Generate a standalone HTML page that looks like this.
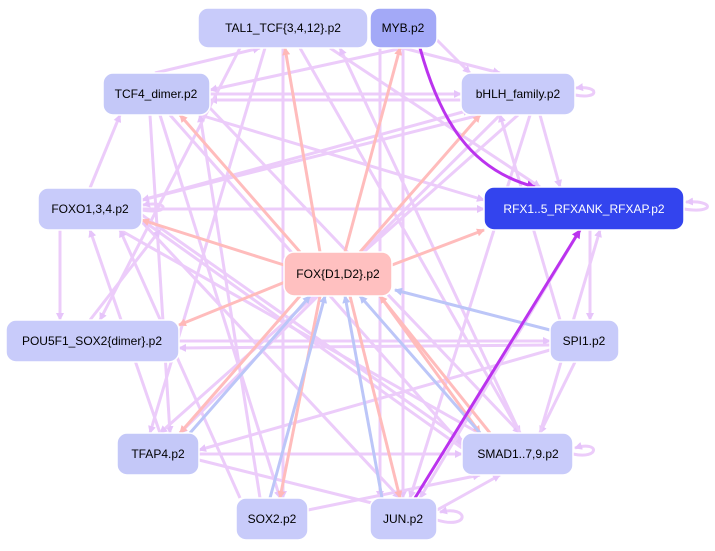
<!DOCTYPE html>
<html><head><meta charset="utf-8"><style>
html,body{margin:0;padding:0;background:#fff;}
svg{display:block;}
text{font-family:"Liberation Sans",sans-serif;font-size:12px;text-anchor:middle;dominant-baseline:central;fill:#000;}
</style></head><body>
<svg width="715" height="551" viewBox="0 0 715 551">
<defs>
<marker id="ap" markerWidth="8" markerHeight="8" refX="7" refY="4" orient="auto" markerUnits="userSpaceOnUse"><path d="M0,0 L8,4 L0,8z" fill="#e6c4fa"/></marker>
<marker id="ar" markerWidth="8" markerHeight="8" refX="7" refY="4" orient="auto" markerUnits="userSpaceOnUse"><path d="M0,0 L8,4 L0,8z" fill="#ffb8b8"/></marker>
<marker id="ad" markerWidth="9" markerHeight="9" refX="8" refY="4.5" orient="auto" markerUnits="userSpaceOnUse"><path d="M0,0 L9,4.5 L0,9z" fill="#bb33ee"/></marker>
<marker id="ab" markerWidth="8" markerHeight="8" refX="7" refY="4" orient="auto" markerUnits="userSpaceOnUse"><path d="M0,0 L8,4 L0,8z" fill="#b8c4f8"/></marker>
</defs>
<g fill="none" stroke="#ecccfa" stroke-width="3" marker-end="url(#ap)">
<path d="M403,48 L500,73"/>
<path d="M403,48 L210,90"/>
<path d="M437,40 L470,73"/>
<path d="M210,94 L461,94"/>
<path d="M461,100 L210,100"/>
<path d="M155,73 L260,48"/>
<path d="M90,188 L120,115"/>
<path d="M142,200 L470,110"/>
<path d="M142,209 L484,209"/>
<path d="M142,215 L462,440"/>
<path d="M142,222 L400,498"/>
<path d="M120,230 L500,445"/>
<path d="M60,230 L60,320"/>
<path d="M179,341 L550,341"/>
<path d="M550,345 L179,348"/>
<path d="M170,115 L462,445"/>
<path d="M160,115 L280,498"/>
<path d="M150,115 L170,433"/>
<path d="M200,115 L484,200"/>
<path d="M210,108 L520,433"/>
<path d="M518,115 L160,433"/>
<path d="M500,115 L180,433"/>
<path d="M480,115 L142,200"/>
<path d="M530,115 L410,498"/>
<path d="M540,115 L560,187"/>
<path d="M403,48 L403,498"/>
<path d="M380,48 L380,498"/>
<path d="M283,48 L283,498"/>
<path d="M300,48 L520,433"/>
<path d="M265,48 L150,433"/>
<path d="M240,48 L100,320"/>
<path d="M330,48 L540,187"/>
<path d="M199,454 L462,454"/>
<path d="M199,460 L380,505"/>
<path d="M308,510 L480,475"/>
<path d="M437,510 L500,475"/>
<path d="M550,350 L199,450"/>
<path d="M560,320 L500,115"/>
<path d="M590,230 L590,320"/>
<path d="M575,362 L540,433"/>
<path d="M580,230 L420,498"/>
<path d="M160,433 L90,230"/>
<path d="M240,498 L120,230"/>
<path d="M260,498 L200,115"/>
<path d="M520,433 L340,48"/>
<path d="M540,433 L600,230"/>
<path d="M462,448 L142,220"/>
<path d="M90,320 L160,230"/>
<path d="M573,454 C600,460 600,440 575,448"/>
<path d="M437,520 C470,530 470,505 440,512"/>
<path d="M575,95 C600,100 600,85 576,88"/>
<path d="M684,209 C715,214 715,200 686,202"/>
<path d="M142,210 C170,215 170,200 143,205"/>
</g>
<g fill="none" stroke="#ffbcbc" stroke-width="3" marker-end="url(#ar)">
<path d="M300,252 L180,115"/>
<path d="M284,265 L142,220"/>
<path d="M290,280 L179,325"/>
<path d="M320,252 L285,48"/>
<path d="M345,252 L400,48"/>
<path d="M360,252 L480,115"/>
<path d="M392,265 L484,230"/>
<path d="M380,296 L480,433"/>
<path d="M350,296 L400,498"/>
<path d="M300,296 L180,433"/>
<path d="M320,296 L280,498"/>
<path d="M490,433 L380,296"/>
</g>
<g fill="none" stroke="#bcc6f8" stroke-width="3" marker-end="url(#ab)">
<path d="M550,330 L395,290"/>
<path d="M190,433 L310,296"/>
<path d="M270,498 L325,296"/>
<path d="M480,433 L360,296"/>
<path d="M382,498 L345,296"/>
</g>
<g fill="none" stroke="#bb33ee" stroke-width="3" marker-end="url(#ad)">
<path d="M420,48 C440,120 470,170 535,187"/>
<path d="M415,498 L580,230"/>
</g>
<g stroke="#fff" stroke-width="1.5">
<rect x="198" y="8" width="170" height="40" rx="10" fill="#c8cbfa"/>
<rect x="370" y="8" width="67" height="40" rx="10" fill="#a3a9f7"/>
<rect x="103" y="73" width="107" height="42" rx="10" fill="#c4c8f8"/>
<rect x="461" y="73" width="114" height="42" rx="10" fill="#c8cbfa"/>
<rect x="38" y="188" width="104" height="42" rx="10" fill="#c8cbfa"/>
<rect x="484" y="187" width="200" height="43" rx="10" fill="#3344ee"/>
<rect x="284" y="252" width="108" height="44" rx="10" fill="#ffc0c0"/>
<rect x="6" y="320" width="173" height="42" rx="10" fill="#c8cbfa"/>
<rect x="550" y="320" width="69" height="42" rx="10" fill="#c8cbfa"/>
<rect x="117" y="433" width="82" height="42" rx="10" fill="#c4c8f8"/>
<rect x="462" y="433" width="111" height="42" rx="10" fill="#c8cbfa"/>
<rect x="236" y="498" width="72" height="42" rx="10" fill="#c8cbfa"/>
<rect x="370" y="498" width="67" height="42" rx="10" fill="#c8cbfa"/>
</g>
<text x="283" y="28">TAL1_TCF{3,4,12}.p2</text>
<text x="403" y="28">MYB.p2</text>
<text x="156" y="94">TCF4_dimer.p2</text>
<text x="518" y="94">bHLH_family.p2</text>
<text x="90" y="209">FOXO1,3,4.p2</text>
<text x="584" y="209" style="fill:#fff">RFX1..5_RFXANK_RFXAP.p2</text>
<text x="338" y="274">FOX{D1,D2}.p2</text>
<text x="92" y="341">POU5F1_SOX2{dimer}.p2</text>
<text x="584" y="341">SPI1.p2</text>
<text x="158" y="454">TFAP4.p2</text>
<text x="518" y="454">SMAD1..7,9.p2</text>
<text x="272" y="519">SOX2.p2</text>
<text x="403" y="519">JUN.p2</text>
</svg>
</body></html>
